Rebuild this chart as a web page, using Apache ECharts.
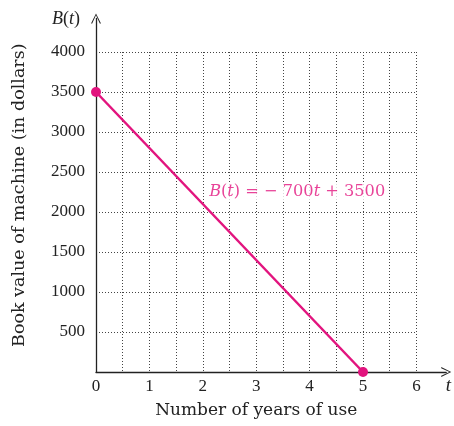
<!DOCTYPE html>
<html>
<head>
<meta charset="utf-8">
<script src="https://cdn.jsdelivr.net/npm/echarts@6/dist/echarts.min.js"></script>
<style>html,body{margin:0;padding:0;background:#fff}#c{width:454px;height:426px}</style>
</head>
<body>
<div id="c"></div>
<script>
const years = [0, 5];
const bookValue = [3500, 0];
const xTicks = [0, 1, 2, 3, 4, 5, 6];
const yTicks = [500, 1000, 1500, 2000, 2500, 3000, 3500, 4000];
const labelAnchor = [2.1, 2250];

const FONT = '"Liberation Serif", "DejaVu Serif", serif';
const TFONT = '"DejaVu Serif", "Liberation Serif", serif';
const MAG = '#e2147e';
const INK = '#222';

const chart = echarts.init(document.getElementById('c'));
const arrow = 'path://M0,10 L5,0 L10,10 L8.8,10 L5,1.8 L1.2,10 Z';

chart.setOption({
  animation: false,
  grid: [
    {left: 96, right: 37.6, top: 52, bottom: 54},
    {left: 96, right: 6.5, top: 18.5, bottom: 54}
  ],
  xAxis: [
    {
      gridIndex: 0, type: 'value', min: 0, max: 6, interval: 0.5,
      axisLine: {show: false}, axisTick: {show: false},
      axisLabel: {
        margin: 6, color: INK, fontFamily: FONT, fontSize: 17,
        formatter: v => xTicks.indexOf(v) >= 0 ? String(v) : ''
      },
      splitLine: {show: true, lineStyle: {type: [1, 2], color: '#444', width: 1}},
      name: 'Number of years of use', nameLocation: 'middle', nameGap: 30,
      nameTextStyle: {fontFamily: TFONT, fontSize: 17, color: INK}
    },
    {
      gridIndex: 1, type: 'value', min: 0, max: 1,
      axisLine: {show: true, symbol: ['none', arrow], symbolSize: [10, 11],
        lineStyle: {color: INK, width: 1.3}},
      axisTick: {show: false}, axisLabel: {show: false}, splitLine: {show: false},
      name: 't', nameLocation: 'end', nameGap: -0.5,
      nameTextStyle: {fontFamily: FONT, fontSize: 19, fontStyle: 'italic', color: INK,
        align: 'left', verticalAlign: 'top', padding: [4, 0, 0, 0]}
    }
  ],
  yAxis: [
    {
      gridIndex: 0, type: 'value', min: 0, max: 4000, interval: 500,
      axisLine: {show: false}, axisTick: {show: false},
      axisLabel: {
        margin: 11, color: INK, fontFamily: FONT, fontSize: 17,
        formatter: v => yTicks.indexOf(v) >= 0 ? String(v) : ''
      },
      splitLine: {show: true, lineStyle: {type: [1, 2], color: '#444', width: 1}}
    },
    {
      gridIndex: 1, type: 'value', min: 0, max: 1, position: 'left',
      axisLine: {show: true, symbol: ['none', arrow], symbolSize: [10, 11],
        lineStyle: {color: INK, width: 1.3}},
      axisTick: {show: false}, axisLabel: {show: false}, splitLine: {show: false},
      name: 'Book value of machine (in dollars)', nameLocation: 'middle', nameGap: 68,
      nameRotate: 90,
      nameTextStyle: {fontFamily: TFONT, fontSize: 17.5, color: INK}
    },
    {
      gridIndex: 1, type: 'value', min: 0, max: 1, position: 'left',
      axisLine: {show: false}, axisTick: {show: false}, axisLabel: {show: false}, splitLine: {show: false},
      name: '{i|B}{n|(}{i|t}{n|)}', nameLocation: 'end', nameGap: -0.5,
      nameTextStyle: {align: 'right', verticalAlign: 'middle', padding: [0, 16, 0, 0],
        rich: {
          i: {fontFamily: FONT, fontSize: 18, fontStyle: 'italic', color: INK},
          n: {fontFamily: FONT, fontSize: 18, color: INK}
        }}
    }
  ],
  series: [
    {
      type: 'line', xAxisIndex: 0, yAxisIndex: 0, clip: false,
      data: years.map((x, i) => [x, bookValue[i]]),
      symbol: 'circle', symbolSize: 10, showAllSymbol: true,
      lineStyle: {color: MAG, width: 2.5},
      itemStyle: {color: MAG}
    },
    {
      type: 'scatter', xAxisIndex: 0, yAxisIndex: 0, clip: false,
      data: [labelAnchor], symbolSize: 0, silent: true,
      label: {
        show: true, position: 'right', distance: 0,
        backgroundColor: '#fff', padding: [2, 1, 2, 1],
        formatter: '{i|B}{n|(}{i|t}{n|) = − 700}{i|t}{n| + 3500}',
        rich: {
          i: {fontFamily: TFONT, fontSize: 16.2, fontStyle: 'italic', color: MAG},
          n: {fontFamily: TFONT, fontSize: 16.2, color: MAG}
        }
      }
    }
  ]
});
</script>
</body>
</html>
